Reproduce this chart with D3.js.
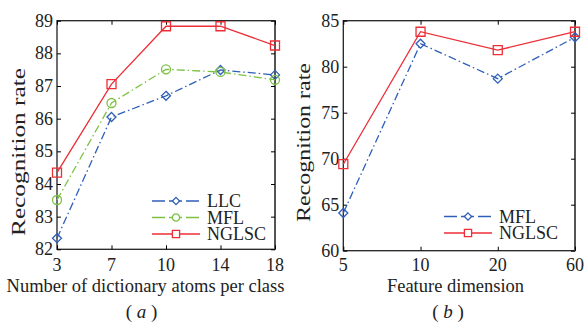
<!DOCTYPE html>
<html>
<head>
<meta charset="utf-8">
<script src="https://cdn.jsdelivr.net/npm/d3@7"></script>
<style>
  body { margin: 0; background: #fff; }
  text { font-family: "Liberation Serif", "Times New Roman", serif; fill: #222; }
</style>
</head>
<body>
<div id="chart"></div>
<script>

// panel (a): dictionary atoms per class
var atoms = ["3", "7", "10", "14", "18"];
var llcA   = [82.34, 86.05, 86.70, 87.49, 87.34];
var mflA   = [83.51, 86.48, 87.51, 87.43, 87.19];
var nglscA = [84.35, 87.06, 88.83, 88.83, 88.24];
var yTicksA = [82, 83, 84, 85, 86, 87, 88, 89];

// panel (b): feature dimension
var dims = ["5", "10", "20", "60"];
var mflB   = [64.1, 82.5, 78.7, 83.2];
var nglscB = [69.4, 83.8, 81.8, 83.8];
var yTicksB = [60, 65, 70, 75, 80, 85];

var blue = "#2f5fb8", green = "#7cc144", red = "#ec2f37";

var svg = d3.select("#chart").append("svg")
    .attr("width", 586)
    .attr("height", 325);

function panel(opt) {
  var x = d3.scalePoint().domain(opt.cats).range([opt.left, opt.right]);
  var y = d3.scaleLinear().domain(opt.yDomain).range([opt.bottom, opt.top]);
  var g = svg.append("g");

  // frame
  g.append("rect")
    .attr("x", opt.left).attr("y", opt.top)
    .attr("width", opt.right - opt.left).attr("height", opt.bottom - opt.top)
    .attr("fill", "none").attr("stroke", "#222").attr("stroke-width", 1.3);
  g.append("line")
    .attr("x1", opt.right).attr("x2", opt.right)
    .attr("y1", opt.top).attr("y2", opt.bottom)
    .attr("stroke", "#555").attr("stroke-width", 2);

  // inside ticks on all four sides
  g.append("g").attr("transform", "translate(0," + opt.bottom + ")")
    .call(d3.axisTop(x).tickSize(4).tickFormat(""))
    .call(function (a) { a.select(".domain").remove(); });
  g.append("g").attr("transform", "translate(0," + opt.top + ")")
    .call(d3.axisBottom(x).tickSize(4).tickFormat(""))
    .call(function (a) { a.select(".domain").remove(); });
  g.append("g").attr("transform", "translate(" + opt.left + ",0)")
    .call(d3.axisRight(y).tickValues(opt.yTicks).tickSize(4).tickFormat(""))
    .call(function (a) { a.select(".domain").remove(); });
  g.append("g").attr("transform", "translate(" + opt.right + ",0)")
    .call(d3.axisLeft(y).tickValues(opt.yTicks).tickSize(4).tickFormat(""))
    .call(function (a) { a.select(".domain").remove(); });

  // tick labels
  g.selectAll(".xl").data(opt.cats).enter().append("text")
    .attr("x", function (d) { return x(d); })
    .attr("y", 271)
    .attr("text-anchor", "middle")
    .style("font-size", "18px")
    .text(function (d) { return d; });
  g.selectAll(".yl").data(opt.yTicks).enter().append("text")
    .attr("x", opt.left - 4)
    .attr("y", function (d) { return y(d) + 6; })
    .attr("text-anchor", "end")
    .style("font-size", "18px")
    .text(function (d) { return d; });

  // axis titles
  g.append("text")
    .attr("x", opt.xLabelX)
    .attr("y", 292)
    .attr("text-anchor", "middle")
    .style("font-size", "18.5px")
    .text(opt.xLabel);
  g.append("text")
    .attr("transform", "translate(" + opt.yLabelX + "," + opt.yLabelY + ") rotate(-90)")
    .attr("text-anchor", "middle")
    .attr("textLength", opt.yLabelLen)
    .attr("lengthAdjust", "spacingAndGlyphs")
    .style("font-size", "18px")
    .text("Recognition rate");

  // caption
  var cap = g.append("text")
    .attr("x", opt.capX).attr("y", 318)
    .attr("text-anchor", "middle")
    .style("font-size", "19px");
  cap.append("tspan").text("( ");
  cap.append("tspan").style("font-style", "italic").text(opt.cap);
  cap.append("tspan").text(" )");

  // series
  var line = d3.line()
    .x(function (d, i) { return x(opt.cats[i]); })
    .y(function (d) { return y(d); });

  opt.series.forEach(function (s) {
    g.append("path")
      .attr("d", line(s.values))
      .attr("fill", "none")
      .attr("stroke", s.color)
      .attr("stroke-width", 1.3)
      .attr("stroke-dasharray", s.dash);
    g.selectAll(null).data(s.values).enter().append("path")
      .attr("transform", function (d, i) { return "translate(" + x(opt.cats[i]) + "," + y(d) + ")"; })
      .attr("d", markerPath(s.marker, 4.5))
      .attr("fill", "none")
      .attr("stroke", s.color)
      .attr("stroke-width", 1.3);
  });

  // legend
  opt.series.forEach(function (s, i) {
    var ly = opt.legendY + i * 16.5;
    g.append("line")
      .attr("x1", opt.legendX).attr("x2", opt.legendX + 48)
      .attr("y1", ly).attr("y2", ly)
      .attr("stroke", s.color).attr("stroke-width", 1.3)
      .attr("stroke-dasharray", s.dash ? "13,4" : null);
    g.append("path")
      .attr("transform", "translate(" + (opt.legendX + 24) + "," + ly + ")")
      .attr("d", markerPath(s.marker, 3.6))
      .attr("fill", "#fff")
      .attr("stroke", s.color).attr("stroke-width", 1.3);
    g.append("text")
      .attr("x", opt.legendX + 55).attr("y", ly + 6)
      .style("font-size", "18px")
      .text(s.name);
  });
}

function markerPath(type, r) {
  if (type === "square") return "M" + (-r) + "," + (-r) + "h" + 2 * r + "v" + 2 * r + "h" + (-2 * r) + "Z";
  if (type === "diamond") return "M0," + (-r) + "L" + r + ",0L0," + r + "L" + (-r) + ",0Z";
  return "M" + r + ",0A" + r + "," + r + " 0 1,1 " + (-r) + ",0A" + r + "," + r + " 0 1,1 " + r + ",0Z";
}

panel({
  cats: atoms, yDomain: [82, 89], yTicks: yTicksA,
  left: 57, right: 275, top: 20.7, bottom: 249.3,
  xLabel: "Number of dictionary atoms per class", xLabelX: 145.5,
  yLabelX: 25, yLabelY: 152, yLabelLen: 168, cap: "a", capX: 141.5,
  legendX: 152, legendY: 201,
  series: [
    { name: "LLC", values: llcA, color: blue, dash: "8,3,1.5,3", marker: "diamond" },
    { name: "MFL", values: mflA, color: green, dash: "8,3,1.5,3", marker: "circle" },
    { name: "NGLSC", values: nglscA, color: red, dash: null, marker: "square" }
  ]
});

panel({
  cats: dims, yDomain: [60, 85], yTicks: yTicksB,
  left: 343.3, right: 575, top: 20.7, bottom: 250.7,
  xLabel: "Feature dimension", xLabelX: 455.5,
  yLabelX: 310, yLabelY: 142.5, yLabelLen: 159, cap: "b", capX: 448,
  legendX: 444, legendY: 216.5,
  series: [
    { name: "MFL", values: mflB, color: blue, dash: "8,3,1.5,3", marker: "diamond" },
    { name: "NGLSC", values: nglscB, color: red, dash: null, marker: "square" }
  ]
});

</script>
</body>
</html>
